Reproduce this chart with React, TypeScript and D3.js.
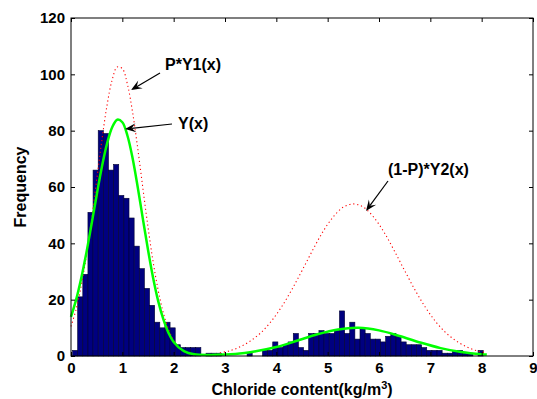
import { useEffect, useRef } from 'react';
import * as d3 from 'd3';

// histogram: 80 bins of width 0.1 starting at 0.03
const binStart = 0.03;
const binWidth = 0.1;
const counts = [
  2, 21, 29, 51, 66, 80, 79, 66, 68, 57,
  56, 49, 39, 31, 24, 18, 12, 10, 12, 10,
  4, 3, 3, 3, 3, 0, 1, 1, 1, 0,
  0, 0, 0, 0, 1, 0, 0, 2, 2, 5,
  3, 4, 5, 8, 3, 2, 8, 8, 9, 8,
  8, 9, 16, 8, 12, 6, 10, 8, 6, 6,
  5, 7, 8, 7, 5, 4, 4, 4, 3, 2,
  2, 2, 1, 1, 2, 2, 1, 1, 0, 2,
];

// Y(x) - fitted mixture (green)
const fitX = [0, 0.1, 0.2, 0.3, 0.4, 0.5, 0.6, 0.7, 0.8, 0.9, 1.0, 1.1, 1.2, 1.3, 1.4, 1.5, 1.6, 1.7, 1.8, 1.9, 2.0, 2.2, 2.4, 2.8, 3.2, 3.6, 4.0, 4.4, 4.8, 5.2, 5.6, 6.0, 6.4, 6.8, 7.2, 7.6, 8.0, 8.1];
const fitY = [13.9, 20, 27.7, 36.7, 46.8, 57.1, 67, 75.2, 81.1, 83.9, 83, 78.2, 70.2, 59.9, 48.7, 37.7, 27.7, 19.4, 13, 8.2, 5, 1.7, 0.6, 0.4, 0.7, 1.7, 3.2, 5.4, 7.7, 9.4, 10, 9.1, 7.1, 4.8, 2.8, 1.4, 0.6, 0.5];

// P*Y1(x) (red dotted)
const y1X = [0, 0.1, 0.2, 0.3, 0.4, 0.5, 0.6, 0.7, 0.8, 0.9, 1.0, 1.1, 1.2, 1.3, 1.4, 1.5, 1.6, 1.7, 1.8, 1.9, 2.0, 2.1, 2.2, 2.3, 2.4];
const y1Y = [10.5, 16.6, 25, 35.7, 48.5, 62.5, 76.4, 88.8, 97.9, 102.6, 102, 96.4, 86.5, 73.7, 59.6, 45.8, 33.4, 23.2, 15.2, 9.5, 5.6, 3.2, 1.7, 0.9, 0.4];

// (1-P)*Y2(x) (red dotted)
const y2X = [2.9, 3.1, 3.3, 3.5, 3.7, 3.9, 4.1, 4.3, 4.5, 4.7, 4.9, 5.1, 5.3, 5.5, 5.7, 5.9, 6.1, 6.3, 6.5, 6.7, 6.9, 7.1, 7.3, 7.5, 7.7, 7.9, 8.1];
const y2Y = [1.1, 1.9, 3.3, 5.4, 8.3, 12.3, 17.4, 23.5, 30.3, 37.3, 43.9, 49.2, 52.8, 54, 52.8, 49.2, 43.9, 37.3, 30.3, 23.5, 17.4, 12.3, 8.3, 5.4, 3.3, 1.9, 1.1];

const xTicks = [0, 1, 2, 3, 4, 5, 6, 7, 8, 9];
const yTicks = [0, 20, 40, 60, 80, 100, 120];

const width = 537;
const height = 399;
const marginTop = 18;
const marginRight = 4;
const marginBottom = 43;
const marginLeft = 71;
const font = "'Liberation Sans', Arial, Helvetica, sans-serif";

const App = () => {
  const ref = useRef<SVGSVGElement>(null);

  const xScale = d3.scaleLinear().domain([0, 9]).range([marginLeft, width - marginRight]);
  const yScale = d3.scaleLinear().domain([0, 120]).range([height - marginBottom, marginTop]);

  const toPts = (xs: number[], ys: number[]) => xs.map((v, i) => [v, ys[i]] as [number, number]);
  const line = d3
    .line<[number, number]>()
    .x((d) => xScale(d[0]))
    .y((d) => yScale(d[1]))
    .curve(d3.curveCatmullRom);

  useEffect(() => {
    const svg = d3.select(ref.current);
    const styleAxis = (g: any) => {
      g.select('.domain').remove();
      g.selectAll('line').attr('stroke', '#000');
      g.selectAll('text')
        .attr('font-family', font)
        .attr('font-weight', 'bold')
        .attr('font-size', 15)
        .attr('fill', '#000');
    };

    svg
      .select('.x-axis')
      .attr('transform', `translate(0, ${height - marginBottom})`)
      .call(d3.axisBottom(xScale).tickValues(xTicks).tickSizeInner(-4).tickSizeOuter(0).tickPadding(6) as any)
      .call(styleAxis);
    svg
      .select('.x-axis-top')
      .attr('transform', `translate(0, ${marginTop})`)
      .call(d3.axisTop(xScale).tickValues(xTicks).tickSizeInner(-4).tickSizeOuter(0).tickFormat(() => '') as any)
      .call(styleAxis);
    svg
      .select('.y-axis')
      .attr('transform', `translate(${marginLeft}, 0)`)
      .call(d3.axisLeft(yScale).tickValues(yTicks).tickSizeInner(-4).tickSizeOuter(0).tickPadding(6) as any)
      .call(styleAxis);
    svg
      .select('.y-axis-right')
      .attr('transform', `translate(${width - marginRight}, 0)`)
      .call(d3.axisRight(yScale).tickValues(yTicks).tickSizeInner(-4).tickSizeOuter(0).tickFormat(() => '') as any)
      .call(styleAxis);
  }, []);

  const arrow = (x1: number, y1: number, x2: number, y2: number) => {
    const a = Math.atan2(y2 - y1, x2 - x1);
    const len = 11;
    const w = 4.5;
    const bx = x2 - len * Math.cos(a);
    const by = y2 - len * Math.sin(a);
    const nx = -Math.sin(a);
    const ny = Math.cos(a);
    const mx = x2 - len * 0.6 * Math.cos(a);
    const my = y2 - len * 0.6 * Math.sin(a);
    return (
      <g>
        <line x1={x1} y1={y1} x2={mx} y2={my} stroke="#000" strokeWidth={1.2} />
        <path
          d={`M${x2},${y2} L${bx + nx * w},${by + ny * w} L${mx},${my} L${bx - nx * w},${by - ny * w} Z`}
          fill="#000"
        />
      </g>
    );
  };

  const bw = xScale(binWidth) - xScale(0);

  return (
    <svg
      ref={ref}
      width={width}
      height={height}
      style={{ position: 'absolute', left: 0, top: 0, background: '#fff' }}
    >
      <rect x={0} y={0} width={width} height={height} fill="#fff" />
      <g>
        {counts.map((c, i) =>
          c > 0 ? (
            <rect
              key={i}
              x={xScale(binStart + i * binWidth)}
              y={yScale(c)}
              width={bw}
              height={yScale(0) - yScale(c)}
              fill="#000080"
              stroke="#000030"
              strokeWidth={0.6}
            />
          ) : null,
        )}
      </g>
      <path d={line(toPts(y1X, y1Y)) || ''} fill="none" stroke="#ff0000" strokeWidth={1.1} strokeDasharray="1.2 2.8" />
      <path d={line(toPts(y2X, y2Y)) || ''} fill="none" stroke="#ff0000" strokeWidth={1.1} strokeDasharray="1.2 2.8" />
      <path d={line(toPts(fitX, fitY)) || ''} fill="none" stroke="#00ff00" strokeWidth={2.5} />

      <rect
        x={marginLeft}
        y={marginTop}
        width={width - marginLeft - marginRight}
        height={height - marginTop - marginBottom}
        fill="none"
        stroke="#000"
        strokeWidth={1}
      />
      <g className="x-axis" />
      <g className="x-axis-top" />
      <g className="y-axis" />
      <g className="y-axis-right" />

      <g fontFamily={font} fontWeight="bold" fontSize={16} fill="#000">
        <text x={165} y={70}>P*Y1(x)</text>
        <text x={178} y={129}>Y(x)</text>
        <text x={388} y={175}>(1-P)*Y2(x)</text>
      </g>
      {arrow(160, 73, 131, 90)}
      {arrow(172, 124, 125, 129)}
      {arrow(388, 181, 366, 211)}

      <text
        x={(marginLeft + width - marginRight) / 2}
        y={395}
        textAnchor="middle"
        fontFamily={font}
        fontWeight="bold"
        fontSize={16}
      >
        Chloride content(kg/m<tspan dy={-6} fontSize={11}>3</tspan>
        <tspan dy={6}>)</tspan>
      </text>
      <text
        transform={`translate(26, ${(marginTop + height - marginBottom) / 2}) rotate(-90)`}
        textAnchor="middle"
        fontFamily={font}
        fontWeight="bold"
        fontSize={16}
      >
        Frequency
      </text>
    </svg>
  );
};

export default App;
